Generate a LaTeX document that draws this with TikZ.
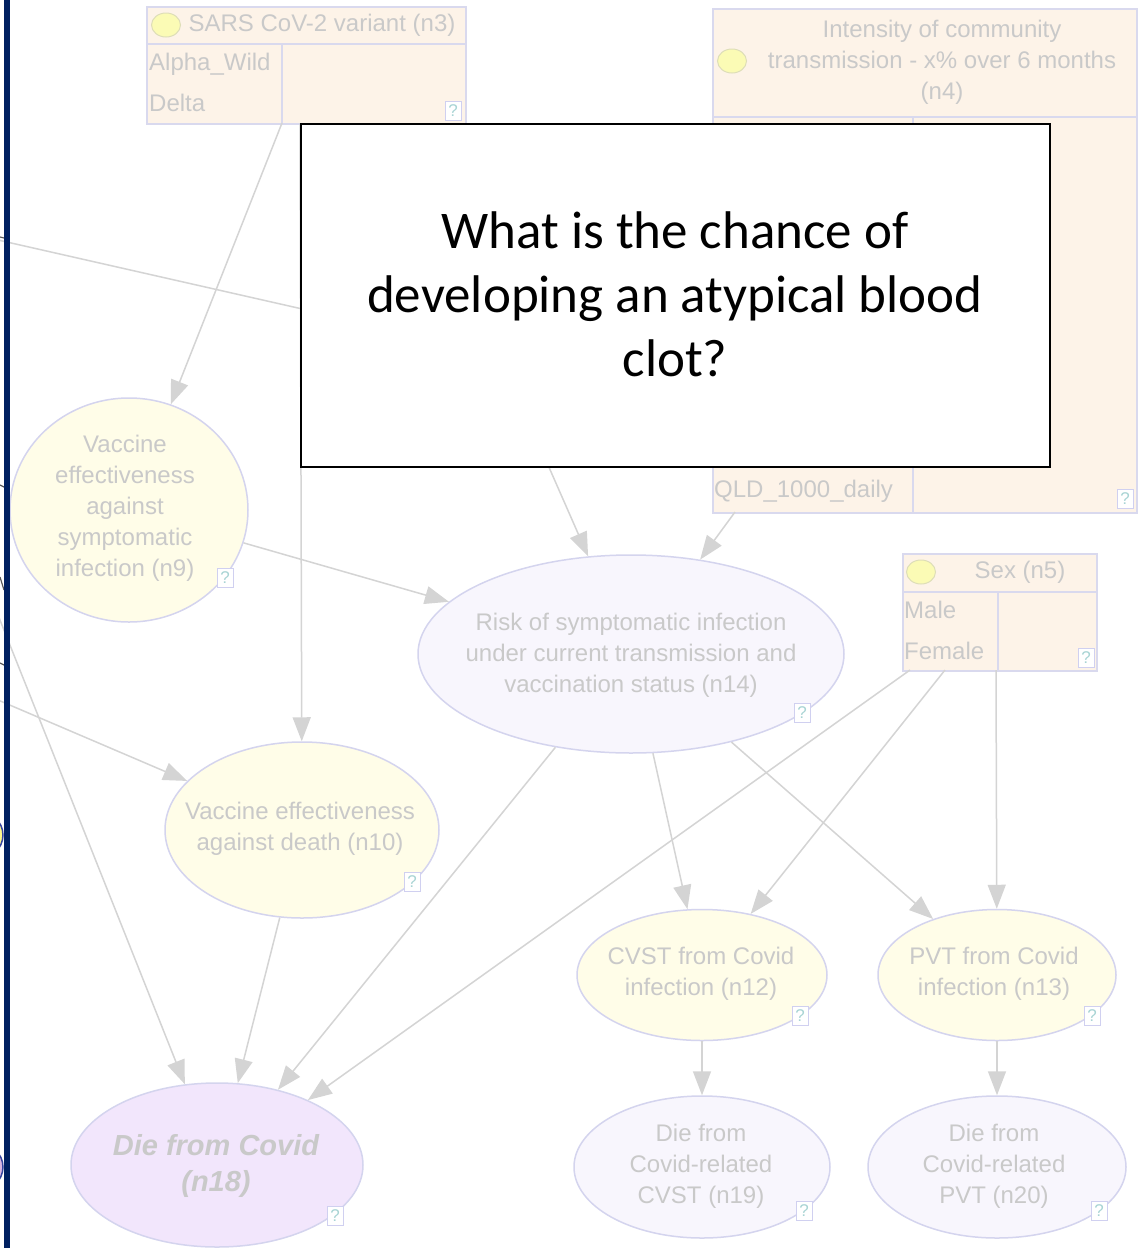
\documentclass[tikz,border=0pt]{standalone}
\usepackage{fontspec}
\setmainfont{Liberation Sans}
\newfontfamily\calloutfont{Carlito}
\usetikzlibrary{arrows.meta,shapes.geometric}

\definecolor{boxfill}{HTML}{FDF3E8}
\definecolor{boxline}{HTML}{D9D9EE}
\definecolor{yelfill}{HTML}{FFFDE8}
\definecolor{lavfill}{HTML}{F8F6FD}
\definecolor{purfill}{HTML}{F2E6FC}
\definecolor{ellline}{HTML}{D4D4EE}
\definecolor{txtgrey}{HTML}{C9C9C9}
\definecolor{edgegrey}{HTML}{D4D4D4}
\definecolor{dotfill}{HTML}{FBFBB5}
\definecolor{dotline}{HTML}{DEDEB8}
\definecolor{navy}{HTML}{002060}
\definecolor{qborder}{HTML}{D0D0F0}
\definecolor{qtext}{HTML}{A8D4D4}
\definecolor{selline}{HTML}{3545A0}

\tikzset{
  boxnode/.style={draw=boxline, fill=boxfill, line width=1.5pt, inner sep=0pt,
    anchor=north west},
  sepline/.style={draw=boxline, line width=1.5pt},
  ellnode/.style={ellipse, draw=ellline, line width=1.5pt, inner sep=0pt},
  ntext/.style={text=txtgrey, align=center, inner sep=0pt,
    font=\fontsize{24}{31}\selectfont},
  stext/.style={text=txtgrey, anchor=west, inner sep=0pt,
    font=\fontsize{24}{31}\selectfont},
  dot/.style={ellipse, draw=dotline, fill=dotfill, line width=1pt,
    minimum width=29pt, minimum height=24pt, inner sep=0pt},
  qmark/.style={draw=qborder, fill=white, line width=1pt, minimum width=16pt,
    minimum height=19pt, inner sep=0pt, text=qtext,
    font=\fontsize{17}{17}\selectfont},
  edge/.style={draw=edgegrey, line width=1.5pt,
    -{Triangle[length=24pt,width=18pt]}},
  plainedge/.style={draw=edgegrey, line width=1.5pt},
}

\begin{document}
\begin{tikzpicture}[x=1pt,y=-1pt]
\useasboundingbox (0,0) rectangle (1140,1248);
\fill[white] (0,0) rectangle (1140,1248);

% nodes cut off at the left border
\node[ellipse, draw=selline, fill=yellow!45, line width=1.5pt,
  minimum width=56pt, minimum height=50pt] (offY) at (-25,835) {};
\node[ellipse, draw=selline, fill=purfill!80!violet, line width=1.5pt,
  minimum width=56pt, minimum height=50pt] (offP) at (-25,1167) {};

% ---- SARS CoV-2 variant (n3)
\node[boxnode, minimum width=319pt, minimum height=117pt] (n3) at (146,6) {};
\draw[sepline] (146,44) -- (465,44);
\draw[sepline] (282,44) -- (282,123);
\node[dot] (n3dot) at (166,25) {};
\node[ntext] (n3t) at (322,25) {SARS CoV-2 variant (n3)};
\node[stext] (n3s1) at (149,64) {Alpha\_Wild};
\node[stext] (n3s2) at (149,103) {Delta};
\node[qmark] (n3q) at (453,111) {?};

% ---- Intensity of community transmission (n4)
\node[boxnode, minimum width=424pt, minimum height=504pt] (n4) at (712,8) {};
\draw[sepline] (712,117) -- (1136,117);
\draw[sepline] (913,117) -- (913,512);
\node[dot] (n4dot) at (732,61) {};
\node[ntext] (n4t) at (942,62) {Intensity of community\\transmission - x\% over 6 months\\(n4)};
\node[stext] (n4s) at (714,491) {QLD\_1000\_daily};
\node[qmark] (n4q) at (1125,499) {?};

% ---- Sex (n5)
\node[boxnode, minimum width=194pt, minimum height=117pt] (n5) at (902,553) {};
\draw[sepline] (902,592) -- (1096,592);
\draw[sepline] (998,592) -- (998,670);
\node[dot] (n5dot) at (921,572) {};
\node[ntext] (n5t) at (1020,572) {Sex (n5)};
\node[stext] (n5s1) at (904,610) {Male};
\node[stext] (n5s2) at (904,651) {Female};
\node[qmark] (n5q) at (1086,658) {?};

% ---- ellipses
\node[ellnode, fill=yelfill, minimum width=238pt, minimum height=224pt] (n9) at (129,510) {};
\node[ntext] (n9t) at (125,508) {Vaccine\\effectiveness\\against\\symptomatic\\infection (n9)};
\node[qmark] (n9q) at (225,578) {?};

\node[ellnode, fill=lavfill, minimum width=426pt, minimum height=198pt] (n14) at (631,654) {};
\node[ntext] (n14t) at (631,655) {Risk of symptomatic infection\\under current transmission and\\vaccination status (n14)};
\node[qmark] (n14q) at (802,713) {?};

\node[ellnode, fill=yelfill, minimum width=274pt, minimum height=176pt] (n10) at (302,830) {};
\node[ntext] (n10t) at (300,829) {Vaccine effectiveness\\against death (n10)};
\node[qmark] (n10q) at (412,882) {?};

\node[ellnode, fill=yelfill, minimum width=250pt, minimum height=131pt] (n12) at (702,975) {};
\node[ntext] (n12t) at (701,974) {CVST from Covid\\infection (n12)};
\node[qmark] (n12q) at (800,1016) {?};

\node[ellnode, fill=yelfill, minimum width=238pt, minimum height=131pt] (n13) at (997,975) {};
\node[ntext] (n13t) at (994,974) {PVT from Covid\\infection (n13)};
\node[qmark] (n13q) at (1092,1016) {?};

\node[ellnode, fill=lavfill, minimum width=256pt, minimum height=142pt] (n19) at (702,1167) {};
\node[ntext] (n19t) at (701,1166) {Die from\\Covid-related\\CVST (n19)};
\node[qmark] (n19q) at (804,1211) {?};

\node[ellnode, fill=lavfill, minimum width=258pt, minimum height=142pt] (n20) at (997,1167) {};
\node[ntext] (n20t) at (994,1166) {Die from\\Covid-related\\PVT (n20)};
\node[qmark] (n20q) at (1099,1211) {?};

\node[ellnode, fill=purfill, minimum width=292pt, minimum height=164pt] (n18) at (217,1165) {};
\node[ntext, font=\fontsize{29}{36}\selectfont\bfseries\itshape] (n18t) at (216,1166) {Die from Covid\\(n18)};
\node[qmark] (n18q) at (335,1216) {?};

% ---- connectors
\coordinate (n3a) at (282,123);
\coordinate (n3b) at (300,123);
\coordinate (offA) at (-2,240);
\coordinate (offAe) at (320,313);
\coordinate (hidB) at (530,424);
\coordinate (n4a) at (735,512);
\coordinate (offC) at (-2,700);
\coordinate (offD) at (-2,615);
\coordinate (n5a) at (910,670);
\coordinate (n5b) at (945,670);
\coordinate (n5c) at (996,670);

\draw[edge] (n3a) -- (n9);
\draw[edge] (n3b) -- (n10);
\draw[plainedge] (offA) -- (offAe);
\draw[edge] (hidB) -- (n14);
\draw[edge] (n4a) -- (n14);
\draw[edge] (n9) -- (n14);
\draw[edge] (offC) -- (n10);
\draw[edge] (offD) -- (n18);
\draw[edge] (n10) -- (n18);
\draw[edge] (n14) -- (n18);
\draw[edge] (n5a) -- (n18);
\draw[edge] (n14) -- (n12);
\draw[edge] (n5b) -- (n12);
\draw[edge] (n14) -- (n13);
\draw[edge] (n5c) -- (n13);
\draw[edge] (n12) -- (n19);
\draw[edge] (n13) -- (n20);

% dark bits of connectors beyond the left border
\draw[black!65, line width=1.2pt] (0,237) -- (4,238);
\draw[black!65, line width=1.2pt] (0,485) -- (4,487);
\draw[black!65, line width=1.2pt] (0,577) -- (4,590);
\draw[black!65, line width=1.2pt] (0,663) -- (4,665);

% ---- question callout
\node[draw=black, line width=2pt, fill=white, minimum width=749pt,
  minimum height=343pt, inner sep=0pt, anchor=north west] (q) at (300,123) {};
\node[align=center, inner sep=0pt,
  font=\calloutfont\fontsize{53}{64}\selectfont] (qt) at (675,294)
  {What is the chance of\\developing an atypical blood\\clot?};

% ---- slide border
\draw[navy, line width=6pt] (7,-2) -- (7,1250);
\end{tikzpicture}
\end{document}
